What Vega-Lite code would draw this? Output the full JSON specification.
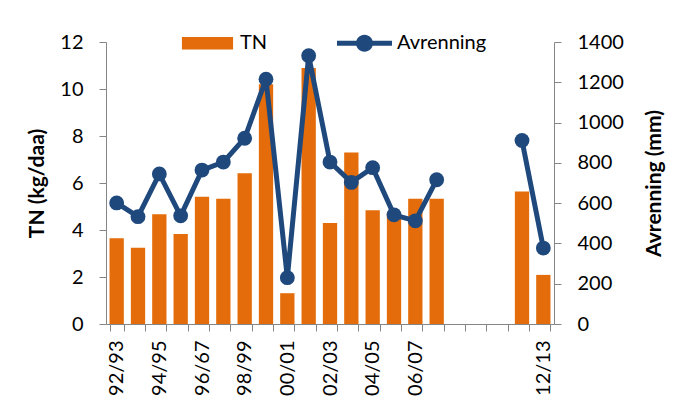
{
  "$schema": "https://vega.github.io/schema/vega-lite/v6.json",
  "width": 448,
  "height": 282,
  "autosize": {"type": "none"},
  "padding": {"left": 106, "top": 42, "right": 123, "bottom": 85},
  "background": "white",
  "config": {
    "view": {"stroke": null},
    "font": "Lato",
    "axis": {
      "domainColor": "#868686",
      "tickColor": "#868686",
      "labelColor": "black",
      "titleColor": "black",
      "labelFont": "Lato",
      "titleFont": "Lato",
      "labelFontSize": 20,
      "tickSize": 7,
      "grid": false
    }
  },
  "data": {
    "values": [
      {"year": "92/93", "TN": 3.65, "Avrenning": 601},
      {"year": "93/94", "TN": 3.24, "Avrenning": 533},
      {"year": "94/95", "TN": 4.67, "Avrenning": 745},
      {"year": "95/96", "TN": 3.83, "Avrenning": 537},
      {"year": "96/67", "TN": 5.42, "Avrenning": 764},
      {"year": "97/98", "TN": 5.33, "Avrenning": 804},
      {"year": "98/99", "TN": 6.42, "Avrenning": 922},
      {"year": "99/00", "TN": 10.2, "Avrenning": 1215},
      {"year": "00/01", "TN": 1.31, "Avrenning": 230},
      {"year": "01/02", "TN": 10.89, "Avrenning": 1332},
      {"year": "02/03", "TN": 4.30, "Avrenning": 804},
      {"year": "03/04", "TN": 7.30, "Avrenning": 703},
      {"year": "04/05", "TN": 4.84, "Avrenning": 776},
      {"year": "05/06", "TN": 4.70, "Avrenning": 542},
      {"year": "06/07", "TN": 5.33, "Avrenning": 512},
      {"year": "07/08", "TN": 5.33, "Avrenning": 716},
      {"year": "08/09", "TN": null, "Avrenning": null},
      {"year": "09/10", "TN": null, "Avrenning": null},
      {"year": "10/11", "TN": null, "Avrenning": null},
      {"year": "11/12", "TN": 5.64, "Avrenning": 911},
      {"year": "12/13", "TN": 2.09, "Avrenning": 377}
    ]
  },
  "encoding": {
    "x": {
      "field": "year",
      "type": "nominal",
      "sort": null,
      "scale": {
        "domain": ["92/93","93/94","94/95","95/96","96/67","97/98","98/99","99/00","00/01","01/02","02/03","03/04","04/05","05/06","06/07","07/08","08/09","09/10","10/11","11/12","12/13"],
        "paddingInner": 0.33,
        "paddingOuter": 0.165
      },
      "axis": {
        "title": null,
        "labelAngle": -90,
        "labelOverlap": false,
        "tickBand": "extent",
        "labelPadding": 9,
        "labelExpr": "indexof(['92/93','94/95','96/67','98/99','00/01','02/03','04/05','06/07','12/13'], datum.value) >= 0 ? datum.value : ''"
      }
    }
  },
  "layer": [
    {
      "mark": {"type": "bar"},
      "encoding": {
        "y": {
          "field": "TN",
          "type": "quantitative",
          "scale": {"domain": [0, 12]},
          "axis": {
            "orient": "left",
            "values": [0, 2, 4, 6, 8, 10, 12],
            "format": "d",
            "labelPadding": 16,
            "title": "TN (kg/daa)",
            "titleFontSize": 21,
            "titleFontWeight": "bold",
            "titleAngle": -90,
            "titleBaseline": "middle",
            "titleAlign": "center",
            "titleX": -69,
            "titleY": 141
          }
        },
        "color": {
          "datum": "TN",
          "scale": {"domain": ["TN", "Avrenning"], "range": ["#E46C0A", "#1F497D"]},
          "legend": {
            "orient": "none",
            "legendX": 74,
            "legendY": -26.5,
            "direction": "horizontal",
            "title": null,
            "padding": 0,
            "symbolSize": 3025,
            "labelFont": "Lato",
            "labelFontSize": 20,
            "labelColor": "black",
            "labelOffset": 5,
            "columnPadding": 69,
            "encode": {
              "symbols": {
                "update": {
                  "shape": {"signal": "datum.value === 'TN' ? 'M-0.93,-0.23H0.93V0.23H-0.93Z' : 'M-1,-0.09H1V0.09H-1Z M0.31,0 A0.31,0.31 0 1 1 -0.31,0 A0.31,0.31 0 1 1 0.31,0Z'"},
                  "fill": {"signal": "datum.value === 'TN' ? '#E46C0A' : '#1F497D'"},
                  "stroke": {"value": "transparent"},
                  "strokeWidth": {"value": 0},
                  "opacity": {"value": 1},
                  "fillOpacity": {"value": 1}
                }
              }
            }
          }
        }
      }
    },
    {
      "encoding": {
        "y": {
          "field": "Avrenning",
          "type": "quantitative",
          "scale": {"domain": [0, 1400]},
          "axis": {
            "orient": "right",
            "values": [0, 200, 400, 600, 800, 1000, 1200, 1400],
            "format": "d",
            "labelPadding": 16,
            "title": "Avrenning (mm)",
            "titleFontSize": 21,
            "titleFontWeight": "bold",
            "titleAngle": -90,
            "titleBaseline": "middle",
            "titleAlign": "center",
            "titleX": 100,
            "titleY": 141
          }
        },
        "color": {"datum": "Avrenning"}
      },
      "layer": [
        {"mark": {"type": "line", "strokeWidth": 5, "invalid": "break-paths-filter-domains"}},
        {"mark": {"type": "point", "filled": true, "size": 220, "opacity": 1}}
      ]
    }
  ],
  "resolve": {"scale": {"y": "independent"}}
}
